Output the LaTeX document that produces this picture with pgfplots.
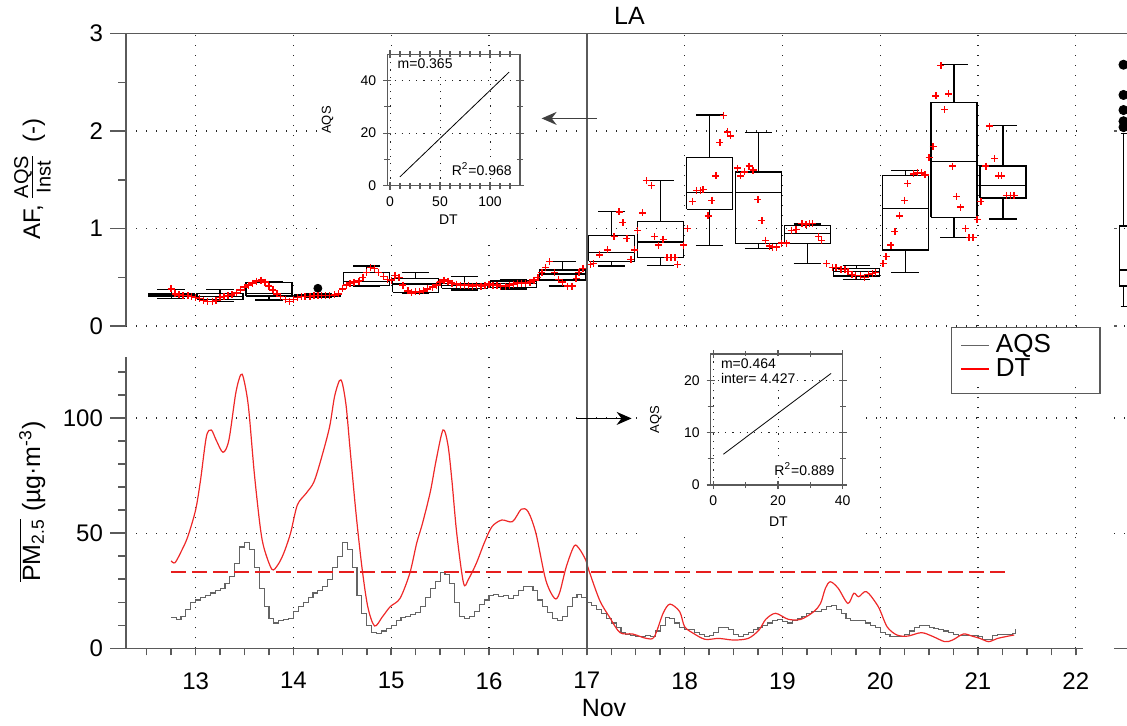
\documentclass[border=0pt]{standalone}
\usepackage{pgfplots}
\pgfplotsset{compat=1.18}
\usetikzlibrary{arrows.meta}
\usepackage{fontspec}
\setmainfont{Liberation Sans}
\newcommand{\fs}[2]{\fontsize{#1}{#2}\selectfont}
\definecolor{axgray}{RGB}{90,90,90}
\definecolor{dtred}{RGB}{238,40,40}
\definecolor{aqsgray}{RGB}{100,100,100}
\definecolor{dashred}{RGB}{230,30,30}

\pgfplotsset{
  base/.style={scale only axis,
    /pgf/number format/assume math mode=true,
    axis line style={axgray, line width=0.75pt},
    tick style={axgray, line width=0.75pt},
    tick label style={font=\fs{12}{14}},
    grid style={black!85, line width=0.6pt, dash pattern=on 0.7pt off 4.3pt}},
  topgeom/.style={at={(63pt,-163pt)}, anchor=south west, width=478.3pt, height=146.25pt,
    xmin=12.288, xmax=22.07, ymin=0, ymax=3},
  botgeom/.style={at={(63pt,-324.15pt)}, anchor=south west, width=478.3pt, height=145.8pt,
    xmin=12.288, xmax=22.07, ymin=0, ymax=126.6},
  dataax/.style={base, axis line style={draw=none}, tick style={draw=none},
    xticklabels={}, yticklabels={}, grid=major},
  inset/.style={scale only axis, /pgf/number format/assume math mode=true,
    axis line style={axgray, line width=0.6pt}, tick style={axgray, line width=0.6pt},
    tick label style={font=\fs{7}{8}},
    tick align=center, major tick length=4pt, minor tick length=3pt,
    grid=major, grid style={black!85, line width=0.5pt, dash pattern=on 0.6pt off 3pt},
    axis background/.style={fill=white}},
  boxst/.style={draw=black, line width=0.6pt, unbounded coords=jump, mark=none},
}
% box: position, lower whisker, q1, median, q3, upper whisker
\newcommand{\bx}[6]{%
  \pgfmathsetmacro\bxl{#1-0.235}\pgfmathsetmacro\bxr{#1+0.235}%
  \pgfmathsetmacro\bcl{#1-0.14}\pgfmathsetmacro\bcr{#1+0.14}%
  \edef\tmpbox{\noexpand\addplot[boxst] coordinates {(\bxl,#3) (\bxr,#3) (\bxr,#5) (\bxl,#5) (\bxl,#3) (nan,nan) (\bxl,#4) (\bxr,#4) (nan,nan) (#1,#5) (#1,#6) (nan,nan) (\bcl,#6) (\bcr,#6) (nan,nan) (#1,#3) (#1,#2) (nan,nan) (\bcl,#2) (\bcr,#2)};}%
  \tmpbox}

\begin{document}
\begin{tikzpicture}
\useasboundingbox (0,0) rectangle (563.5pt,-362.5pt);
\clip (0,0) rectangle (563.5pt,-362.5pt);

% ---------------- top panel: data ----------------
\begin{axis}[dataax, topgeom, xtick={13,...,22}, ytick={0,1,2,3}]
\bx{12.75}{0.284}{0.308}{0.322}{0.335}{0.376}
\bx{13.25}{0.25}{0.274}{0.30}{0.335}{0.376}
\bx{13.75}{0.267}{0.308}{0.335}{0.444}{0.455}
\bx{14.25}{0.29}{0.300}{0.31}{0.318}{0.33}
\bx{14.75}{0.404}{0.414}{0.455}{0.551}{0.615}
\bx{15.25}{0.33}{0.345}{0.43}{0.489}{0.547}
\bx{15.75}{0.369}{0.387}{0.414}{0.438}{0.506}
\bx{16.25}{0.38}{0.397}{0.438}{0.462}{0.48}
\bx{16.75}{0.41}{0.472}{0.533}{0.574}{0.66}
\bx{17.255}{0.615}{0.664}{0.756}{0.930}{1.176}
\bx{17.755}{0.622}{0.701}{0.862}{1.074}{1.49}
\bx{18.255}{0.828}{1.197}{1.371}{1.730}{2.164}
\bx{18.755}{0.793}{0.848}{1.371}{1.579}{1.986}
\bx{19.255}{0.643}{0.848}{0.951}{1.029}{1.046}
\bx{19.755}{0.479}{0.513}{0.557}{0.592}{0.619}
\bx{20.255}{0.551}{0.779}{1.207}{1.542}{1.593}
\bx{20.755}{0.906}{1.115}{1.689}{2.294}{2.680}
\bx{21.255}{1.097}{1.313}{1.443}{1.641}{2.054}
\addplot[only marks, mark=*, mark size=2pt, black] coordinates {(14.25,0.387)};
\addplot[only marks, mark=+, mark size=1.75pt, red, mark options={draw=red, line width=0.7pt}] coordinates {
(12.75,0.38) (12.79,0.33) (12.83,0.32) (12.87,0.31) (12.92,0.31) (12.96,0.30) (13.00,0.29) (13.04,0.28)
(13.08,0.26) (13.12,0.25) (13.17,0.25) (13.21,0.26) (13.25,0.29) (13.29,0.30) (13.33,0.31) (13.37,0.32)
(13.42,0.34) (13.46,0.37) (13.50,0.40) (13.54,0.42) (13.58,0.44) (13.62,0.46) (13.67,0.47) (13.71,0.45)
(13.75,0.41) (13.79,0.37) (13.83,0.33) (13.87,0.30) (13.92,0.27) (13.96,0.25) (14.00,0.27) (14.04,0.29)
(14.08,0.30) (14.12,0.30) (14.17,0.30) (14.21,0.31) (14.25,0.31) (14.29,0.31) (14.33,0.31) (14.37,0.31)
(14.42,0.32) (14.46,0.33) (14.50,0.38) (14.54,0.42) (14.58,0.44) (14.62,0.45) (14.67,0.46) (14.71,0.50)
(14.75,0.55) (14.79,0.60) (14.83,0.59) (14.87,0.55) (14.92,0.51) (14.96,0.48) (15.00,0.47) (15.04,0.52)
(15.08,0.50) (15.12,0.42) (15.17,0.36) (15.21,0.34) (15.25,0.35) (15.29,0.35) (15.33,0.36) (15.37,0.38)
(15.42,0.40) (15.46,0.42) (15.50,0.45) (15.54,0.47) (15.58,0.46) (15.62,0.44) (15.67,0.43) (15.71,0.42)
(15.75,0.42) (15.79,0.42) (15.83,0.41) (15.87,0.42) (15.92,0.41) (15.96,0.42) (16.00,0.43) (16.04,0.42)
(16.08,0.42) (16.12,0.41) (16.17,0.41) (16.21,0.42) (16.25,0.43) (16.29,0.44) (16.33,0.44) (16.37,0.44)
(16.42,0.45) (16.46,0.47) (16.50,0.50) (16.54,0.55) (16.58,0.60) (16.62,0.66) (16.67,0.55) (16.71,0.48)
(16.75,0.45) (16.80,0.41) (16.85,0.41) (16.89,0.49) (16.92,0.55) (16.96,0.59) (17.04,0.63) (17.07,0.64)
(17.13,0.73) (17.21,0.78) (17.28,0.92) (17.33,1.17) (17.37,1.06) (17.41,0.90) (17.45,0.68) (17.49,0.78)
(17.52,0.98) (17.57,1.16) (17.61,1.49) (17.66,1.44) (17.69,0.92) (17.73,0.83) (17.78,0.89) (17.82,0.70)
(17.86,0.70) (17.90,0.70) (17.93,0.63) (17.99,0.83) (18.03,1.00) (18.08,1.28) (18.12,1.39) (18.16,1.39)
(18.19,1.40) (18.24,1.13) (18.28,1.29) (18.32,1.54) (18.36,1.88) (18.40,2.16) (18.44,1.99) (18.47,1.95)
(18.54,1.62) (18.57,1.54) (18.61,1.58) (18.66,1.64) (18.70,1.60) (18.75,1.30) (18.79,1.08) (18.83,0.88)
(18.87,0.82) (18.90,0.81) (18.94,0.81) (18.99,0.85) (19.04,0.85) (19.09,0.98) (19.14,0.99) (19.20,1.05)
(19.24,1.04) (19.28,1.05) (19.31,1.05) (19.37,0.92) (19.40,0.88) (19.45,0.64) (19.51,0.60) (19.55,0.60)
(19.60,0.58) (19.64,0.58) (19.67,0.56) (19.71,0.53) (19.75,0.52) (19.80,0.52) (19.84,0.50) (19.88,0.53)
(19.92,0.54) (19.95,0.55) (20.03,0.64) (20.06,0.71) (20.11,0.83) (20.15,0.97) (20.20,1.13) (20.25,1.29)
(20.28,1.46) (20.34,1.56) (20.38,1.57) (20.42,1.57) (20.46,1.55) (20.50,1.73) (20.54,1.84) (20.57,2.36)
(20.62,2.67) (20.66,2.22) (20.70,2.38) (20.74,1.64) (20.78,1.33) (20.82,1.22) (20.87,1.00) (20.91,0.91)
(20.95,0.91) (20.99,1.09) (21.03,1.28) (21.08,1.64) (21.12,2.05) (21.17,1.72) (21.21,1.54) (21.24,1.54)
(21.29,1.34) (21.33,1.34) (21.37,1.34)};
\end{axis}
% ---------------- top panel: y ticks ----------------
\begin{axis}[base, topgeom, axis y line*=left, axis x line=none,
  ytick={0,1,2,3}, minor ytick={0.5,1.5,2.5}, tick align=outside,
  major tick length=8pt, minor tick length=3.9pt]
\end{axis}

% ---------------- bottom panel: data ----------------
\begin{axis}[dataax, botgeom, xtick={13,...,22}, ytick={50,100},
  legend style={at={(0.8632,1.1008)}, anchor=north west, draw=none, fill=white,
    font=\fs{13}{15}, inner xsep=4pt, inner ysep=3pt, row sep=0.5pt,
    nodes={inner ysep=0.5pt, inner xsep=3pt}},
  legend cell align=left]
\addlegendimage{legend image code/.code={\draw[draw=aqsgray, line width=0.8pt] (0pt,0pt) -- (14pt,0pt);}}
\addlegendentry{\makebox[40pt][l]{AQS}}
\addlegendimage{legend image code/.code={\draw[draw=red, line width=0.9pt] (0pt,0pt) -- (14pt,0pt);}}
\addlegendentry{\makebox[40pt][l]{DT}}
\addplot[const plot, draw=aqsgray, line width=0.55pt, forget plot] coordinates {
(12.75,13.5) (12.80,12.5) (12.85,14) (12.90,17) (12.95,20) (13.00,21) (13.05,22) (13.10,23) (13.15,24)
(13.20,25) (13.25,26) (13.30,28) (13.35,31) (13.40,37) (13.45,44) (13.50,46) (13.55,43) (13.60,35)
(13.65,26) (13.70,18) (13.75,13) (13.80,11) (13.85,12) (13.90,12.5) (13.95,13) (14.00,16) (14.05,18)
(14.10,20) (14.15,22) (14.20,24) (14.25,25) (14.30,27) (14.35,30) (14.40,35) (14.45,40) (14.50,46)
(14.55,43) (14.60,35) (14.65,23) (14.70,15) (14.75,10) (14.80,7) (14.85,6.5) (14.90,7.5) (14.95,8.5)
(15.00,10) (15.05,12) (15.10,13.5) (15.15,14) (15.20,14.5) (15.25,15.5) (15.30,18) (15.35,22) (15.40,26)
(15.45,29) (15.50,33) (15.55,32) (15.60,28) (15.65,20) (15.70,14) (15.75,13) (15.80,14) (15.85,16)
(15.90,19) (15.95,21) (16.00,23) (16.05,23.5) (16.10,22.5) (16.15,23) (16.20,21.5) (16.25,23) (16.30,25)
(16.35,27) (16.40,27) (16.45,25) (16.50,21) (16.55,18) (16.60,15.5) (16.65,13) (16.70,12) (16.75,14)
(16.80,18) (16.85,22) (16.90,23.5) (16.95,22) (17.00,20) (17.05,18.5) (17.10,17) (17.15,15) (17.20,13)
(17.25,11) (17.30,9) (17.35,7) (17.40,6) (17.45,5.5) (17.50,5) (17.55,5) (17.60,5.5) (17.65,5)
(17.70,7.5) (17.75,10) (17.80,13.5) (17.85,13) (17.90,11) (17.95,9) (18.00,8) (18.05,8) (18.10,7)
(18.15,6) (18.20,5) (18.25,5.5) (18.30,7) (18.35,9) (18.40,9) (18.45,8) (18.50,6) (18.55,5) (18.60,6)
(18.65,7) (18.70,8) (18.75,9) (18.80,10) (18.85,11) (18.90,12) (18.95,12.5) (19.00,11.5) (19.05,11)
(19.10,12) (19.15,13) (19.20,14) (19.25,15) (19.30,16) (19.35,16) (19.40,17) (19.45,18) (19.50,18.5)
(19.55,17) (19.60,15) (19.65,13) (19.70,12) (19.75,12) (19.80,12) (19.85,11) (19.90,10) (19.95,9)
(20.00,7) (20.05,6) (20.10,5) (20.15,5) (20.20,5) (20.25,6) (20.30,7.5) (20.35,9) (20.40,10) (20.45,10)
(20.50,9) (20.55,8.5) (20.60,8) (20.65,7.5) (20.70,7) (20.75,6) (20.80,5.5) (20.85,5.5) (20.90,5.5)
(20.95,5.5) (21.00,5) (21.05,4) (21.10,4) (21.15,5.5) (21.20,6) (21.25,6) (21.30,6) (21.35,6.5) (21.38,8.5)};
\addplot[draw=dtred, line width=0.6pt, smooth, forget plot] coordinates {
(12.75,38.0) (12.79,37.2) (12.86,42.7) (12.92,48.5) (13.00,60.1) (13.05,73) (13.11,91.9) (13.16,94.8)
(13.21,90.4) (13.28,85.1) (13.34,90.4) (13.41,110.7) (13.46,118.7) (13.49,117.2) (13.54,104.9) (13.60,76)
(13.66,52.8) (13.70,43.4) (13.78,34.3) (13.84,36.2) (13.90,41.2) (13.97,49.9) (14.04,62.2) (14.13,67.3)
(14.21,72.3) (14.29,83.2) (14.37,96.2) (14.42,109.2) (14.47,116.2) (14.50,115.1) (14.54,104.9) (14.58,86.1)
(14.64,58.6) (14.70,35.4) (14.76,18.1) (14.83,9.7) (14.91,13.7) (14.99,18.1) (15.09,21.7) (15.19,32.6)
(15.26,45.6) (15.32,54.3) (15.40,68) (15.46,81.8) (15.53,94.8) (15.58,88.3) (15.62,73.1) (15.67,49.9)
(15.74,28.2) (15.79,30) (15.87,36.9) (15.95,45.6) (16.03,52.8) (16.13,55.7) (16.24,55) (16.33,60.4)
(16.40,59.3) (16.48,49.9) (16.58,29.7) (16.67,21.7) (16.72,23.9) (16.79,35.4) (16.87,44.4) (16.92,43.4)
(16.99,38.3) (17.02,34) (17.13,21) (17.23,13.7) (17.34,6.8) (17.47,6.2) (17.61,4.3) (17.69,5) (17.78,15.2)
(17.85,19.2) (17.95,15.9) (18.00,9.4) (18.09,6.5) (18.21,3.9) (18.35,4.3) (18.50,3.6) (18.65,4.3)
(18.76,7.9) (18.83,12.6) (18.93,15.2) (19.06,12.6) (19.19,12.6) (19.32,15.9) (19.39,19.5) (19.44,26.1)
(19.49,28.9) (19.57,26.1) (19.67,19.5) (19.73,23.9) (19.78,22.4) (19.86,24.6) (19.98,18.1) (20.07,9.4)
(20.17,5.8) (20.28,5.3) (20.42,6.8) (20.53,5.3) (20.66,2.9) (20.74,3.6) (20.85,6.2) (20.94,5.3)
(21.02,4.3) (21.11,2.9) (21.20,4.3) (21.37,5.8)};
\addplot[draw=dashred, color=dashred, dash pattern=on 7.5pt off 3pt, line width=0.9pt, forget plot] coordinates {(12.75,33.3) (21.33,33.3)};
\end{axis}
% ---------------- bottom panel: ticks ----------------
\begin{axis}[base, botgeom, axis x line*=bottom, axis y line=none,
  xtick={13,...,22}, minor xtick={12.5,12.75,...,22}, tick align=outside,
  major tick length=3.5pt, minor tick length=3.5pt,
  xticklabel style={yshift=-5pt}]
\end{axis}
\begin{axis}[base, botgeom, axis y line*=left, axis x line=none,
  ytick={0,50,100}, minor ytick={10,20,30,40,60,70,80,90,110,120}, tick align=outside,
  major tick length=8pt, minor tick length=3.9pt]
\end{axis}

% ---------------- right narrow panels ----------------
\begin{axis}[base, at={(557pt,-163pt)}, anchor=south west, width=13pt, height=146.25pt,
  xmin=0, xmax=26, ymin=0, ymax=3, axis y line*=left, axis x line=none,
  y axis line style={draw=none}, ytick={0,1,2,3}, yticklabels={}, ymajorgrids,
  tick align=inside, major tick length=1.5pt]
\addplot[boxst] coordinates {(5.3,0.41) (13.7,0.41) (13.7,1.026) (5.3,1.026) (5.3,0.41) (nan,nan)
  (5.3,0.575) (13.7,0.575) (nan,nan) (9.5,1.026) (9.5,1.976) (nan,nan) (6.5,1.976) (12.5,1.976) (nan,nan)
  (9.5,0.41) (9.5,0.2) (nan,nan) (6.5,0.2) (12.5,0.2)};
\addplot[only marks, mark=*, mark size=2.3pt, black] coordinates {(9.5,2.68) (9.5,2.37) (9.5,2.215) (9.5,2.10) (9.5,2.04)};
\end{axis}
\begin{axis}[base, at={(557pt,-324.15pt)}, anchor=south west, width=13pt, height=145.8pt,
  xmin=0, xmax=26, ymin=0, ymax=126.6, axis x line*=bottom, axis y line*=left,
  y axis line style={draw=none}, xtick=\empty, ytick={50,100}, yticklabels={}, ymajorgrids,
  major tick length=0pt]
\end{axis}

% ---------------- frame lines, white backgrounds ----------------
\draw[axgray, line width=0.75pt] (55pt,-16.75pt) -- (563.5pt,-16.75pt);
\fill[white] (158.5pt,-27pt) rectangle (268pt,-120pt);
\fill[white] (321.5pt,-172.5pt) rectangle (431pt,-267.5pt);
\draw[axgray, line width=0.7pt] (293.4pt,-16.75pt) -- (293.4pt,-324.15pt);
\draw[axgray, line width=0.6pt] (475.85pt,-163.65pt) rectangle (550pt,-196.65pt);

% ---------------- insets ----------------
\begin{axis}[inset, at={(193.65pt,-92.85pt)}, anchor=south west, width=66.35pt, height=65.7pt,
  xmin=-2.7, xmax=130, ymin=0, ymax=50, xtick={0,50,100}, minor xtick={10,20,30,40,60,70,80,90,110,120},
  ytick={0,20,40}, minor ytick={10,30}, xlabel={DT}, ylabel={AQS},
  every axis x label/.style={at={(0.46,-0.26)}, anchor=center, font=\fs{7}{8}},
  every axis y label/.style={at={(-0.45,0.5)}, anchor=center, rotate=90, font=\fs{6.5}{8}}]
\addplot[draw=black, line width=0.4pt] coordinates {(10,3.4) (119,43.2)};
\node[anchor=north west, font=\fs{7}{8}, inner sep=1pt, fill=white] at (rel axis cs:0.06,0.985) {m=0.365};
\node[anchor=south east, font=\fs{7}{8}, inner sep=1pt, fill=white] at (rel axis cs:0.955,0.055) {R\textsuperscript{2}=0.968};
\end{axis}
\begin{axis}[inset, at={(355.35pt,-242.5pt)}, anchor=south west, width=66pt, height=65.5pt,
  xmin=-0.8, xmax=40, ymin=0, ymax=25, xtick={0,20,40}, minor xtick={10,30},
  ytick={0,10,20}, minor ytick={5,15}, xlabel={DT}, ylabel={AQS},
  every axis x label/.style={at={(0.513,-0.28)}, anchor=center, font=\fs{7}{8}},
  every axis y label/.style={at={(-0.416,0.5)}, anchor=center, rotate=90, font=\fs{6.5}{8}}]
\addplot[draw=black, line width=0.4pt] coordinates {(3.1,5.87) (36.4,21.3)};
\node[anchor=north west, font=\fs{7}{7.5}, inner sep=1pt, fill=white, align=left] at (rel axis cs:0.06,0.985) {m=0.464\\inter= 4.427};
\node[anchor=south east, font=\fs{7}{8}, inner sep=1pt, fill=white] at (rel axis cs:0.955,0.055) {R\textsuperscript{2}=0.889};
\end{axis}

% ---------------- arrows ----------------
\draw[-{Stealth[length=7.5pt,width=6.5pt]}, black!75, line width=0.6pt] (298.3pt,-59.2pt) -- (270.8pt,-59.2pt);
\draw[-{Stealth[length=7.5pt,width=6.5pt]}, black, line width=0.6pt] (288pt,-209.2pt) -- (315.8pt,-209.2pt);

% ---------------- labels ----------------
\node[anchor=base, font=\fs{12.5}{14}] at (314.7pt,-12pt) {LA};
\node[anchor=base, font=\fs{12.5}{14}] at (302pt,-358.3pt) {Nov};
\node[rotate=90, anchor=base, font=\fs{12}{14}] at (20pt,-89.5pt) {AF,\ {\fs{10}{11}\begin{tabular}[c]{@{}c@{}}AQS\\[-1.5pt]\hline\rule{0pt}{9pt}Inst\end{tabular}}\ \ (-)};
\node[rotate=90, anchor=base, font=\fs{12.5}{14}] at (20pt,-250.75pt) {$\overline{\hbox{PM\textsubscript{2.5}}}$ (µg·m\textsuperscript{-3})};
\end{tikzpicture}
\end{document}
